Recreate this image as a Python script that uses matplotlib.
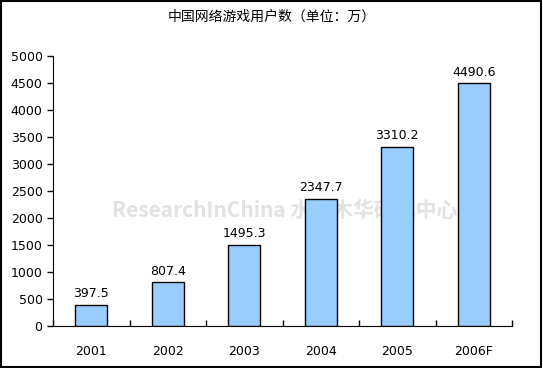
import matplotlib.pyplot as plt
import numpy as np

plt.rcParams['font.family'] = ['Noto Sans CJK SC', 'DejaVu Sans']

years = ['2001', '2002', '2003', '2004', '2005', '2006F']
users = [397.5, 807.4, 1495.3, 2347.7, 3310.2, 4490.6]
title = '中国网络游戏用户数（单位：万）'

fig = plt.figure(figsize=(5.43, 3.68), dpi=100)
ax = fig.add_axes([0.0976, 0.114, 0.8454, 0.734])

x = np.arange(len(years))
ax.bar(x, users, width=0.42, color='#99CCFF', edgecolor='black', linewidth=1, zorder=3)

for xi, v in zip(x, users):
    ax.text(xi, v + 90, f'{v:.1f}', ha='center', va='bottom', fontsize=9,
            family='DejaVu Sans', zorder=4)

ax.set_xlim(-0.5, len(years) - 0.5)
ax.set_ylim(0, 5000)
ax.set_yticks(np.arange(0, 5001, 500))
ax.set_xticks(x)
ax.set_xticklabels(years, fontsize=9, family='DejaVu Sans')
ax.tick_params(axis='x', length=0, pad=14)
ax.set_xticks(np.arange(-0.5, len(years)), minor=True)
ax.tick_params(axis='x', which='minor', direction='in', length=4, width=1)
ax.tick_params(axis='y', direction='out', length=4, width=1, labelsize=9)
for lbl in ax.get_yticklabels():
    lbl.set_family('DejaVu Sans')

ax.spines['top'].set_visible(False)
ax.spines['right'].set_visible(False)

# watermark behind the bars
ax.text(0.524, 0.43, 'ResearchInChina 水清木华研究中心', ha='center', va='center',
        fontsize=15, color='#e2e2e2', zorder=1, fontweight='bold',
        transform=fig.transFigure)

fig.text(0.5, 0.955, title, ha='center', va='center', fontsize=10)

# outer frame
fig.patches.append(plt.Rectangle((0.002, 0.003), 0.995, 0.994, transform=fig.transFigure,
                                 fill=False, edgecolor='black', linewidth=1.5))

fig.savefig('out.png', dpi=100)
